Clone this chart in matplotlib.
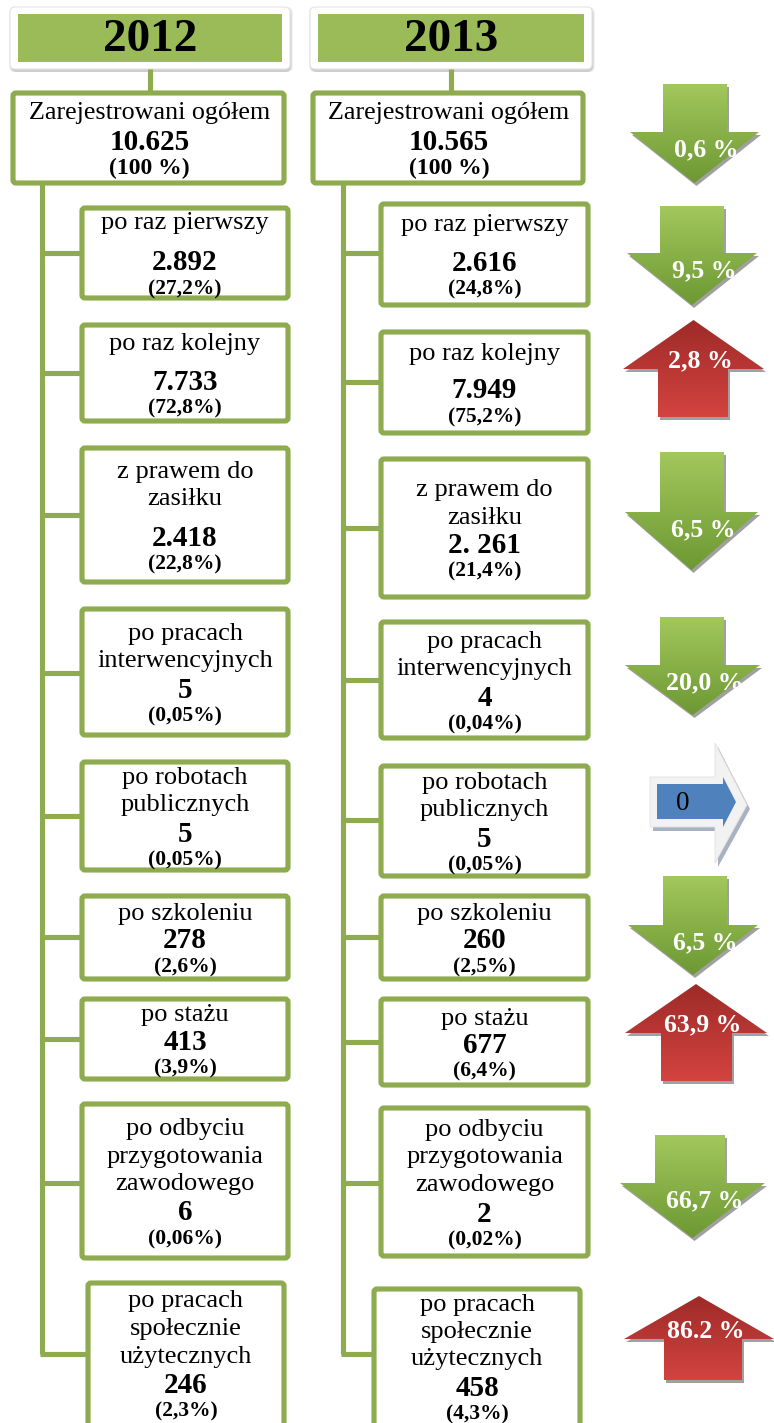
import numpy as np
import matplotlib.pyplot as plt
import matplotlib.colors as mcolors
from matplotlib.patches import FancyBboxPatch, Polygon, Rectangle

# =============================================================================
# Data
# =============================================================================
YEARS = ["2012", "2013"]

CATEGORIES = [
    "Zarejestrowani ogółem",
    "po raz pierwszy",
    "po raz kolejny",
    "z prawem do\nzasiłku",
    "po pracach\ninterwencyjnych",
    "po robotach\npublicznych",
    "po szkoleniu",
    "po stażu",
    "po odbyciu\nprzygotowania\nzawodowego",
    "po pracach\nspołecznie\nużytecznych",
]

COUNT_2012 = ["10.625", "2.892", "7.733", "2.418", "5", "5", "278", "413", "6", "246"]
SHARE_2012 = ["100 %", "27,2%", "72,8%", "22,8%", "0,05%", "0,05%", "2,6%", "3,9%", "0,06%", "2,3%"]

COUNT_2013 = ["10.565", "2.616", "7.949", "2. 261", "4", "5", "260", "677", "2", "458"]
SHARE_2013 = ["100 %", "24,8%", "75,2%", "21,4%", "0,04%", "0,05%", "2,5%", "6,4%", "0,02%", "4,3%"]

CHANGE = ["0,6 %", "9,5 %", "2,8 %", "6,5 %", "20,0 %", "0", "6,5 %", "63,9 %", "66,7 %", "86.2 %"]
TREND = ["down", "down", "up", "down", "down", "flat", "down", "up", "down", "up"]

# =============================================================================
# Layout (pixels, y grows downwards)
# =============================================================================
W, H = 774, 1423
LINE = "#8EAB4F"
HEAD_FILL = "#9BBB59"
SERIF = "Liberation Serif"

COLS = [
    dict(header=(10, 290), trunk=42, top_box=(13, 284), box_x=(82, 288), last_x=(88, 284),
         tops=[208, 325, 448, 609, 762, 896, 999, 1104, 1283],
         bottoms=[298, 421, 582, 735, 870, 979, 1079, 1258, 1424],
         links=[253, 373, 515, 673, 816, 937, 1039, 1183, 1354],
         gaps=[40, 38, 39, 29, 29, 27, 27, 29, 29]),
    dict(header=(310, 592), trunk=343, top_box=(313, 583), box_x=(381, 588), last_x=(374, 580),
         tops=[204, 332, 459, 622, 766, 896, 999, 1108, 1289],
         bottoms=[305, 433, 597, 738, 876, 979, 1085, 1256, 1424],
         links=[253, 382, 528, 680, 820, 937, 1042, 1183, 1354],
         gaps=[38, 37, 28, 29, 29, 27, 27, 29, 29]),
]

# arrow geometry: shaft left/right, head left/right, shaft end, head base, tip
ARROWS = [
    (663, 727, 630, 759, 84, 132, 183),
    (660, 724, 627, 757, 206, 253, 305),
    (658, 728, 623, 764, 417, 369, 320),
    (660, 724, 625, 758, 452, 512, 570),
    (660, 724, 625, 760, 617, 665, 715),
    None,
    (663, 727, 628, 758, 876, 925, 975),
    (661, 732, 625, 767, 1081, 1033, 984),
    (655, 725, 620, 765, 1135, 1183, 1238),
    (664, 742, 624, 774, 1380, 1339, 1296),
]


def gradient_poly(ax, verts, c_top, c_bot, z):
    xs = [v[0] for v in verts]
    ys = [v[1] for v in verts]
    shadow = Polygon([(x + 2, y + 3) for x, y in verts], closed=True,
                     facecolor="#A0A0A0", edgecolor="none", zorder=z - 1)
    ax.add_patch(shadow)
    clip = Polygon(verts, closed=True, facecolor="none", edgecolor="none", zorder=z)
    ax.add_patch(clip)
    c0 = np.array(mcolors.to_rgb(c_top))
    c1 = np.array(mcolors.to_rgb(c_bot))
    t = np.linspace(0, 1, 80)[:, None, None]
    img = c0 + (c1 - c0) * t
    im = ax.imshow(img, extent=(min(xs), max(xs), max(ys), min(ys)), origin="upper",
                   aspect="auto", zorder=z, interpolation="bilinear")
    im.set_clip_path(clip)


def box(ax, x0, x1, y0, y1, extend=False):
    if extend:
        y1 = y1 + 25
    ax.add_patch(FancyBboxPatch((x0, y0), x1 - x0, y1 - y0,
                                boxstyle="round,pad=0,rounding_size=3",
                                facecolor="white", edgecolor=LINE, linewidth=3.7, zorder=3))


def box_text(ax, xc, y0, y1, label, count, share, gap, top=False):
    lines = label.split("\n")
    step = 27.5
    span = (len(lines) - 1) * step + gap + 26
    y = (y0 + y1) / 2 + 3 - span / 2
    lab_size = 18.8 if top else 19
    for ln in lines:
        ax.text(xc, y, ln, ha="center", va="center", fontsize=lab_size, family=SERIF, zorder=5)
        y += step
    y += gap - step
    ax.text(xc, y, count, ha="center", va="center", fontsize=21, fontweight="bold",
            family=SERIF, zorder=5)
    y += 26
    ax.text(xc, y, f"({share})", ha="center", va="center", fontsize=17 if top else 15.5,
            fontweight="bold", family=SERIF, zorder=5)


fig = plt.figure(figsize=(W / 100, H / 100), dpi=100)
ax = fig.add_axes([0, 0, 1, 1])
ax.axis("off")

counts = [COUNT_2012, COUNT_2013]
shares = [SHARE_2012, SHARE_2013]

for col, year, cnt, shr in zip(COLS, YEARS, counts, shares):
    hx0, hx1 = col["header"]
    # header card with soft shadow
    for k, a in enumerate([0.10, 0.14, 0.20]):
        ax.add_patch(FancyBboxPatch((hx0 - 1 + k, 7 + k), hx1 - hx0 + 4 - 2 * k, 65 - k,
                                    boxstyle="round,pad=0,rounding_size=6",
                                    facecolor="#808080", alpha=a, edgecolor="none", zorder=1))
    ax.add_patch(FancyBboxPatch((hx0, 7), hx1 - hx0, 62,
                                boxstyle="round,pad=0,rounding_size=5",
                                facecolor="white", edgecolor="#E4E4E4", linewidth=0.8, zorder=2))
    ax.add_patch(Rectangle((hx0 + 8, 14), hx1 - hx0 - 16, 48, facecolor=HEAD_FILL,
                           edgecolor="none", zorder=3))
    ax.text((hx0 + hx1) / 2, 40, year, ha="center", va="center", fontsize=34,
            fontweight="bold", family=SERIF, zorder=4)

    # connector header -> top box
    tx0, tx1 = col["top_box"]
    xm = (hx0 + hx1) / 2
    ax.plot([xm, xm], [69, 93], color=LINE, lw=3.7, zorder=2, solid_capstyle="butt")
    box(ax, tx0, tx1, 93, 183)
    box_text(ax, (tx0 + tx1) / 2 + 1, 93, 183, CATEGORIES[0], cnt[0], shr[0], 29, top=True)

    # trunk
    tr = col["trunk"]
    ax.plot([tr, tr], [183, col["links"][-1]], color=LINE, lw=3.7, zorder=2,
            solid_capstyle="butt")

    n = len(col["tops"])
    for i in range(n):
        last = i == n - 1
        bx0, bx1 = col["last_x"] if last else col["box_x"]
        ly = col["links"][i]
        ax.plot([tr - 1.8, bx0], [ly, ly], color=LINE, lw=3.7, zorder=2,
                solid_capstyle="butt")
        box(ax, bx0, bx1, col["tops"][i], col["bottoms"][i], extend=last)
        box_text(ax, (bx0 + bx1) / 2, col["tops"][i], col["bottoms"][i],
                 CATEGORIES[i + 1], cnt[i + 1], shr[i + 1], col["gaps"][i])

# change arrows
for geo, txt, trend in zip(ARROWS, CHANGE, TREND):
    if trend == "flat":
        # light outline arrow with a blue arrow inside
        outer = [(650, 777), (715, 777), (715, 743), (747, 805), (715, 863), (715, 827), (650, 827)]
        ax.add_patch(Polygon([(x + 3, y + 4) for x, y in outer], closed=True,
                             facecolor="#A9B2C3", edgecolor="none", zorder=2))
        ax.add_patch(Polygon(outer, closed=True, facecolor="#F2F2F2",
                             edgecolor="#E0E0E0", lw=0.6, zorder=3))
        inner = [(657, 784), (723, 784), (723, 777), (736, 802), (723, 827), (723, 819), (657, 819)]
        ax.add_patch(Polygon(inner, closed=True, facecolor="#4F81BD",
                             edgecolor="none", zorder=4))
        ax.text(683, 803, txt, ha="center", va="center", fontsize=19.5,
                family=SERIF, zorder=6)
        continue

    sl, sr, hl, hr, ys, yb, yt = geo
    xt = (hl + hr) / 2
    verts = [(sl, ys), (sr, ys), (sr, yb), (hr, yb), (xt, yt), (hl, yb), (sl, yb)]
    if trend == "down":
        gradient_poly(ax, verts, "#A2C85C", "#6D9833", 3)
        ty = yb + 18
        tx = xt + 12
    else:
        gradient_poly(ax, verts, "#9E2B29", "#D3433F", 3)
        ty = yb - 8
        tx = xt + 7
    t = ax.text(tx, ty, txt, ha="center", va="center", fontsize=18.5, fontweight="bold",
                color="white", family=SERIF, zorder=6)
    clip = Rectangle((hl - 20, ys - 60), sr + 13 - (hl - 20), 200, transform=ax.transData)
    t.set_clip_path(clip)

ax.set_xlim(0, W)
ax.set_ylim(H, 0)

fig.savefig("out.png", dpi=100, facecolor="white")
